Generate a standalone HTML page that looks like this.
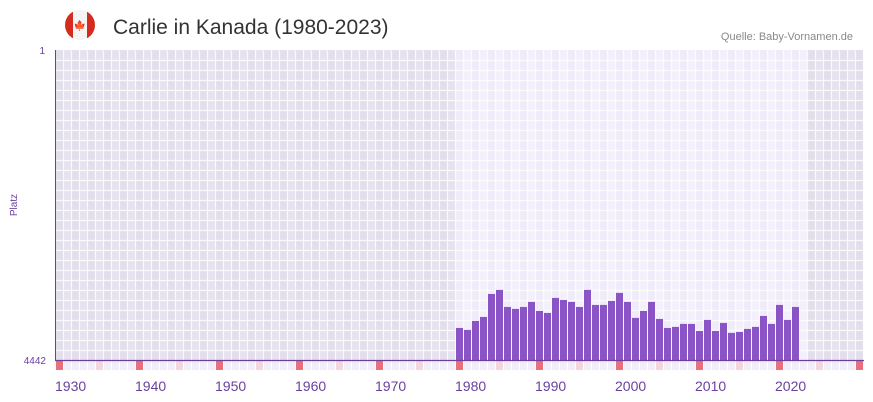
<!DOCTYPE html>
<html><head><meta charset="utf-8"><style>
body{margin:0;background:#fff;font-family:"Liberation Sans",sans-serif}
svg{display:block}
</style></head><body>
<svg id="c" width="873" height="402" xmlns="http://www.w3.org/2000/svg">
<defs><clipPath id="fc"><circle cx="80" cy="25" r="15"/></clipPath></defs>
<g clip-path="url(#fc)">
<rect x="64" y="9" width="32" height="32" fill="#f4f4f4"/>
<rect x="64" y="9" width="9" height="32" fill="#d52b1e"/><rect x="87" y="9" width="9" height="32" fill="#d52b1e"/>
<text x="80" y="29" font-size="10" text-anchor="middle" fill="#d52b1e">🍁</text>
</g>
<g id="bg"></g><g id="bars"></g><g id="strip"></g><g id="xt"></g>
<text x="113" y="34" font-size="21" fill="#333">Carlie in Kanada (1980-2023)</text>
<text x="853" y="40" font-size="11" fill="#888" text-anchor="end">Quelle: Baby-Vornamen.de</text>
<text x="45" y="54" font-size="10" fill="#6a3fa0" text-anchor="end">1</text>
<text x="46" y="364" font-size="10" fill="#6a3fa0" text-anchor="end">4442</text>
<text x="17" y="205" font-size="10" fill="#6a3fa0" text-anchor="middle" transform="rotate(-90 17 205)">Platz</text>
<line x1="55.5" y1="50" x2="55.5" y2="361" stroke="#6a3fa0" stroke-width="1"/>
<line x1="55" y1="360.5" x2="864" y2="360.5" stroke="#6a3fa0" stroke-width="1.2"/>
</svg>
<script>
const years=[1980,1981,1982,1983,1984,1985,1986,1987,1988,1989,1990,1991,1992,1993,1994,1995,1996,1997,1998,1999,2000,2001,2002,2003,2004,2005,2006,2007,2008,2009,2010,2011,2012,2013,2014,2015,2016,2017,2018,2019,2020,2021,2022];
const ranks=[3983,4011,3882,3825,3496,3438,3682,3710,3682,3610,3739,3768,3553,3582,3610,3682,3438,3653,3653,3596,3481,3610,3839,3739,3610,3854,3983,3968,3925,3925,4026,3868,4026,3911,4054,4040,3997,3968,3811,3925,3653,3868,3682];
const xTicks=[1930,1940,1950,1960,1970,1980,1990,2000,2010,2020];
const NS="http://www.w3.org/2000/svg";
const X0=56,CW=8,Y0=50,Y1=360,RMAX=4442,Y_START=1930;
const xs=y=>X0+(y-Y_START)*CW;
const ys=r=>Y0+(r-1)/(RMAX-1)*(Y1-Y0);
function mk(t,a,p){const e=document.createElementNS(NS,t);for(const k in a)e.setAttribute(k,a[k]);p.appendChild(e);return e;}
const bg=document.getElementById('bg');
for(let y=1930;y<=2030;y++){
 const light=y>=1980&&y<=2023;
 const c=light?(y%2?'#f3f0fb':'#efebf9'):(y%2?'#e6e2ef':'#e2deeb');
 const r=mk('rect',{x:xs(y)-1,y:Y0,width:CW,height:Y1-Y0,fill:c},bg);
 
 
 const s=mk('rect',{x:xs(y),y:361,width:CW-1,height:9,fill:y%10==0?'#e8707a':(y%5==0?'#f6d6de':'#f1eefa')},document.getElementById('strip'));
 
 
}
for(let x=X0;x<864;x+=CW){const l=mk('line',{x1:x+CW-0.5,y1:Y0,x2:x+CW-0.5,y2:Y1,stroke:'#fff','stroke-width':1.2,opacity:.8},bg);}
for(let y=Y0+10;y<Y1;y+=10){const l=mk('line',{x1:56,y1:y+.5,x2:864,y2:y+.5,stroke:'#fff','stroke-width':1.2,opacity:.8},bg);}
const bars=document.getElementById('bars');
years.forEach((y,i)=>{const t=ys(ranks[i]);const b=mk('rect',{x:xs(y),y:t,width:CW-1,height:Y1-t,fill:'#8a53c6'},bars);

});
const xt=document.getElementById('xt');
xTicks.forEach(y=>{const t=mk('text',{x:xs(y)-1,y:391,'font-size':14,fill:'#6a3fa0'},xt);t.textContent=y;

});
</script>
</body></html>
